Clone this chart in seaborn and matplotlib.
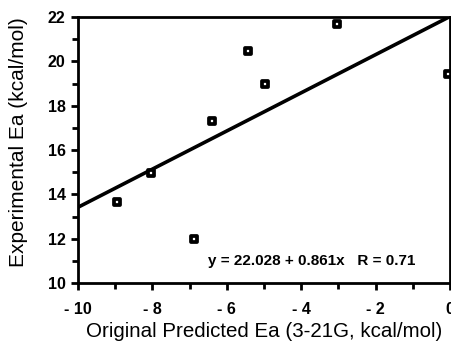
import matplotlib
matplotlib.use("Agg")
import matplotlib.pyplot as plt
import seaborn as sb
import pandas as pd
import numpy as np
from matplotlib.ticker import MultipleLocator, FuncFormatter

# values
predictedEa = [-8.94, -8.05, -6.88, -6.40, -5.43, -4.97, -3.05, -0.06]
experimentalEa = [13.66, 14.95, 12.0, 17.32, 20.48, 19.0, 21.68, 19.43]
fitIntercept = 22.028
fitSlope = 0.861
fitText = "y = 22.028 + 0.861x   R = 0.71"

df = pd.DataFrame({"pred": predictedEa, "exp": experimentalEa})
lineX = np.array([-10, 0])
dfLine = pd.DataFrame({"pred": lineX, "exp": fitIntercept + fitSlope * lineX})

sb.set_style("ticks")
plt.rcParams['font.family'] = ['Liberation Sans', 'DejaVu Sans']
plt.rcParams['text.color'] = 'black'
plt.rcParams['axes.labelcolor'] = 'black'
plt.rcParams['xtick.color'] = 'black'
plt.rcParams['ytick.color'] = 'black'

fig = plt.figure(figsize=(4.51, 3.41), dpi=100)
ax = fig.add_axes([0.173, 0.170, 0.825, 0.780])

sb.lineplot(data=dfLine, x="pred", y="exp", color="black", linewidth=2.6, ax=ax)
sb.scatterplot(data=df, x="pred", y="exp", marker="s", s=22, facecolor="white",
               edgecolor="black", linewidth=2.7, ax=ax, zorder=3, clip_on=False)

ax.set_xlim(-10, 0)
ax.set_ylim(10, 22)
ax.xaxis.set_major_locator(MultipleLocator(2))
ax.xaxis.set_minor_locator(MultipleLocator(1))
ax.yaxis.set_major_locator(MultipleLocator(2))
ax.yaxis.set_minor_locator(MultipleLocator(1))
ax.xaxis.set_major_formatter(FuncFormatter(lambda v, p: ("- %d" % abs(v)) if v < 0 else "%d" % v))
ax.tick_params(which="major", direction="out", length=5, width=2, labelsize=11.5, pad=4)
ax.tick_params(which="minor", direction="out", length=4, width=2)
ax.tick_params(axis="x", which="major", pad=9)
for lab in ax.get_xticklabels() + ax.get_yticklabels():
    lab.set_fontweight("bold")
for sp in ax.spines.values():
    sp.set_visible(True)
    sp.set_linewidth(2)
    sp.set_color("black")

ax.set_xlabel("Original Predicted Ea (3-21G, kcal/mol)", fontsize=14.8, labelpad=3)
ax.set_ylabel("Experimental Ea (kcal/mol)", fontsize=15)
ax.yaxis.set_label_coords(-0.135, 0.53)
ax.text(-6.5, 11.0, fitText, fontsize=11, fontweight="bold", va="center", ha="left")

fig.savefig("out.png", dpi=100)
